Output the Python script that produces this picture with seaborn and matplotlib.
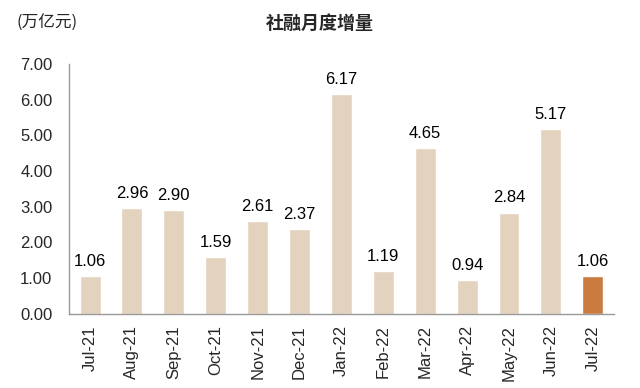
import numpy as np
import pandas as pd
import matplotlib
matplotlib.use("Agg")
import matplotlib.pyplot as plt
import seaborn as sns

# data
months = ['Jul-21', 'Aug-21', 'Sep-21', 'Oct-21', 'Nov-21', 'Dec-21', 'Jan-22',
          'Feb-22', 'Mar-22', 'Apr-22', 'May-22', 'Jun-22', 'Jul-22']
values = [1.06, 2.96, 2.90, 1.59, 2.61, 2.37, 6.17, 1.19, 4.65, 0.94, 2.84, 5.17, 1.06]
y_ticks = [0, 1, 2, 3, 4, 5, 6, 7]

df = pd.DataFrame({'month': months, 'value': values})
df['latest'] = ['no'] * (len(months) - 1) + ['yes']

sns.set_style("white")
plt.rcParams['font.family'] = ['Liberation Sans', 'Noto Sans CJK SC', 'DejaVu Sans']

fig = plt.figure(figsize=(6.4, 3.88), dpi=100)
ax = fig.add_axes([0.108, 0.191, 0.851, 0.644])

sns.barplot(data=df, x='month', y='value', hue='latest',
            palette={'no': '#E3D3BE', 'yes': '#C97B40'}, saturation=1,
            width=0.5, dodge=False, legend=False, ax=ax)

# value labels
for i, v in enumerate(values):
    ax.text(i, v + 0.2, f'{v:.2f}', ha='center', va='bottom', fontsize=12, color='black')

ax.set_ylim(0, 7)
ax.set_xlim(-0.5, len(months) - 0.5)
ax.set_yticks(y_ticks)
ax.set_yticklabels([f'{t:.2f}' for t in y_ticks], fontsize=12)
ax.tick_params(axis='y', length=0, pad=12)
ax.set_xticks(range(len(months)))
ax.set_xticklabels(months, rotation=90, fontsize=12)
ax.tick_params(axis='x', which='major', length=0, pad=8)
ax.set_xticks(np.arange(-0.5, len(months), 1), minor=True)
ax.tick_params(axis='x', which='minor', length=5, color='#999999', direction='out')
ax.set_xlabel('')
ax.set_ylabel('')

for s in ['top', 'right']:
    ax.spines[s].set_visible(False)
for s in ['left', 'bottom']:
    ax.spines[s].set_color('#999999')
    ax.spines[s].set_linewidth(1)

fig.text(0.5, 0.94, '社融月度增量', ha='center', va='center', fontsize=13,
         fontweight='bold', family=['Noto Sans CJK SC', 'DejaVu Sans'])
fig.text(0.025, 0.94, '(万亿元)', ha='left', va='center', fontsize=12,
         family=['Noto Sans CJK SC', 'DejaVu Sans'])

fig.savefig('out.png', dpi=100)
